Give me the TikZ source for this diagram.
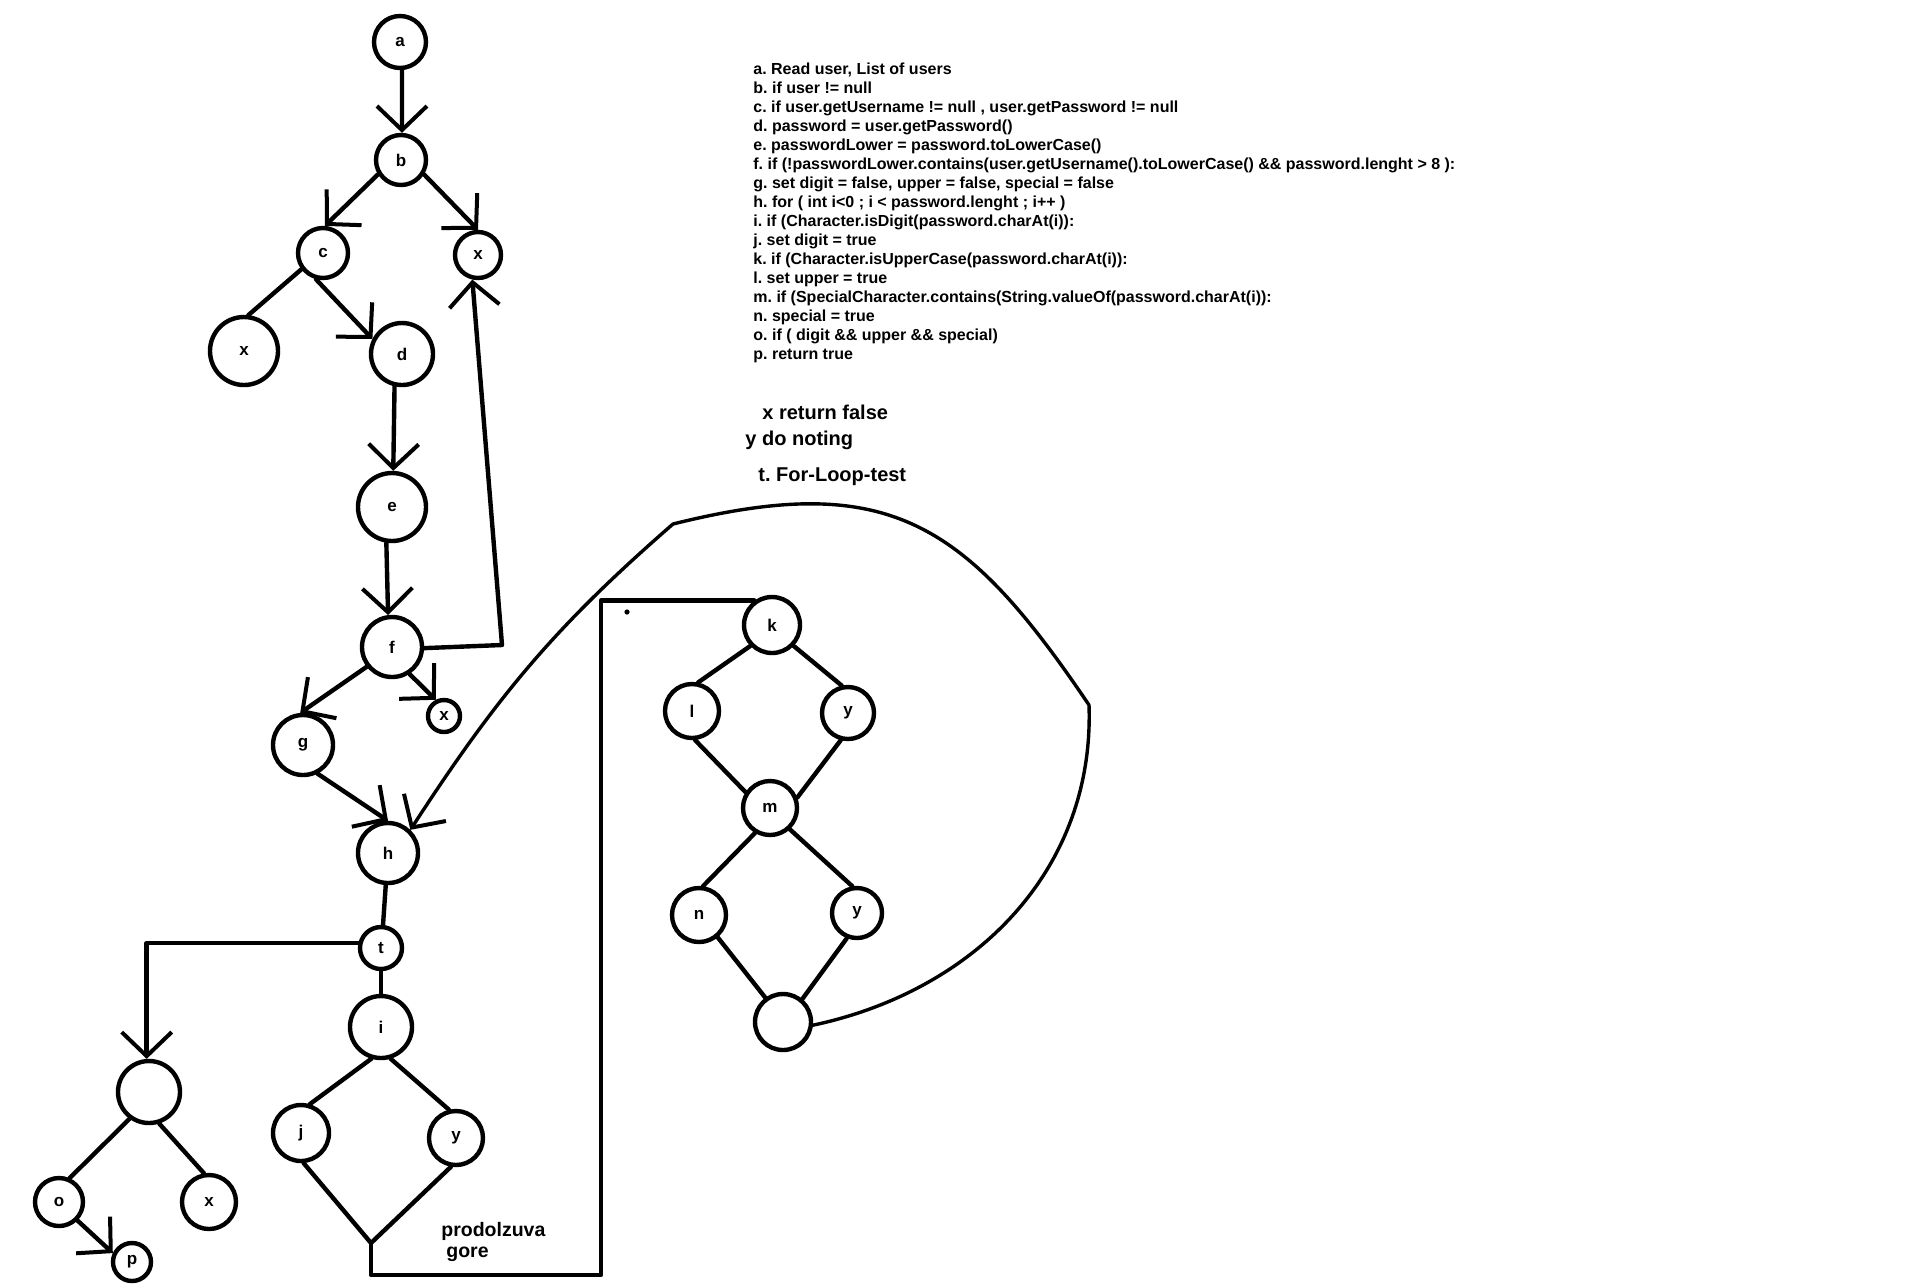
\documentclass[tikz,border=0pt]{standalone}
\usepackage{fontspec}
\setmainfont{Liberation Sans}
\usetikzlibrary{arrows.meta}
\frenchspacing

\tikzset{
  vtx/.style={circle, draw, line width=2.2pt, inner sep=0pt, minimum size=#1pt,
    font=\fontsize{8.5pt}{10pt}\selectfont\bfseries},
  edge/.style={line width=2.2pt, line cap=round, line join=round},
  thinedge/.style={line width=1.7pt, line cap=round, line join=round},
  arr/.style={-{Straight Barb[length=12pt,width=25pt,line width=2pt]}},
  note/.style={inner sep=0pt, anchor=base west,
    font=\fontsize{10pt}{12pt}\selectfont\bfseries},
}

\begin{document}
\begin{tikzpicture}[x=0.5pt, y=-0.5pt]
\useasboundingbox[fill=white] (0,0) rectangle (1914,1286);

% ---- main chain ----
\node[vtx=26] (a)  at (400,42)  {a};
\node[vtx=25] (b)  at (401,160) {b};
\node[vtx=25] (c)  at (323,253) {c};
\node[vtx=23] (xb) at (478,255) {x};
\node[vtx=34] (xc) at (244,351) {x};
\node[vtx=31] (d)  at (402,354) {d};
\node[vtx=34] (e)  at (392,507) {e};
\node[vtx=30] (f)  at (392,647) {f};
\node[vtx=16] (xf) at (444,716) {x};
\node[vtx=30] (g)  at (303,745) {g};
\node[vtx=30] (h)  at (388,853) {h};
\node[vtx=21] (t)  at (381,948) {t};
\node[vtx=31] (i)  at (381,1027) {i};
\node[vtx=28] (j)  at (301,1133) {j};
\node[vtx=27] (yi) at (456,1138) {y};

% ---- exit branch ----
\node[vtx=31] (oq) at (149,1092) {};
\node[vtx=24] (o)  at (59,1202)  {o};
\node[vtx=27] (xo) at (209,1202) {x};
\node[vtx=19] (p)  at (132,1262) {p};

% ---- loop body continued ----
\node[vtx=28] (k)  at (772,625)  {k};
\node[vtx=27] (l)  at (692,711)  {l};
\node[vtx=26] (yk) at (848,713)  {y};
\node[vtx=27] (m)  at (770,808)  {m};
\node[vtx=27] (n)  at (699,915)  {n};
\node[vtx=25] (ym) at (857,913)  {y};
\node[vtx=28] (z)  at (783,1022) {};

% helper points of the routed lines
\coordinate (J)  at (371,1243);
\coordinate (BR) at (601,1275);
\coordinate (P1) at (1089,705);
\coordinate (P2) at (673,524);
\coordinate (FR) at (502,645);

% ---- connectors ----
\draw[edge,arr] (a.274) -- (b.88);
\draw[edge,arr] (b.212) -- (c.86);
\draw[edge,arr] (b.328) -- (xb.90);
\draw[edge]     (c.217) -- (xc.83);
\draw[edge,arr] (c.255) -- (d.153);
\draw[edge,arr] (d.257) -- (e.88);
\draw[edge,arr] (e.261) -- (f.97);
\draw[edge,arr] (f.358) -- (FR) -- (xb.257);
\draw[edge,arr] (f.218) -- (g.95);
\draw[edge,arr] (f.303) -- (xf.117);
\draw[edge,arr] (g.297) -- (h.90);
\draw[edge]     (h.266) -- (t.85);
\draw[edge,arr] (t.168) -| (oq.94);
\draw[edge]     (t.270) -- (i.90);
\draw[edge]     (i.253) -- (j.73);
\draw[edge]     (i.287) -- (yi.104);
\draw[edge]     (j.275) -- (J);
\draw[edge]     (yi.260) -- (J);
\draw[edge]     (J) -- (J |- BR) -- (BR) -- (BR |- k.126) -- (k.126);
\fill (627,612) circle[radius=2.6];

\draw[edge]     (oq.234) -- (o.66);
\draw[edge]     (oq.288) -- (xo.100);
\draw[edge,arr] (o.315) -- (p.155);

\draw[edge] (k.224) -- (l.78);
\draw[edge] (k.316) -- (yk.103);
\draw[edge] (l.276) -- (m.147);
\draw[edge] (yk.255) -- (m.21);
\draw[edge] (m.239) -- (n.82);
\draw[edge] (m.313) -- (ym.100);
\draw[edge] (n.310) -- (z.126);
\draw[edge] (ym.248) -- (z.50);

% loop back to the for header
\draw[thinedge,arr] (z.354) to[out=12,in=-88] (P1)
  to[out=124,in=14,looseness=1.25] (P2)
  to[out=221,in=57] (h.46);

% ---- legend ----
\node[inner sep=0pt, anchor=north west, align=left,
  font=\fontsize{8pt}{9.5pt}\selectfont\bfseries] (legend) at (753,62) {%
a. Read user, List of users\\
b. if user != null\\
c. if user.getUsername != null , user.getPassword != null\\
d. password = user.getPassword()\\
e. passwordLower = password.toLowerCase()\\
f. if (!passwordLower.contains(user.getUsername().toLowerCase() \&\& password.lenght > 8 ):\\
g. set digit = false, upper = false, special = false\\
h. for ( int i<0 ; i < password.lenght ; i++ )\\
i. if (Character.isDigit(password.charAt(i)):\\
j. set digit = true\\
k. if (Character.isUpperCase(password.charAt(i)):\\
l. set upper = true\\
m. if (SpecialCharacter.contains(String.valueOf(password.charAt(i)):\\
n. special = true\\
o. if ( digit \&\& upper \&\& special)\\
p. return true};

\node[note] (xnote) at (762,419) {x return false};
\node[note] (ynote) at (745,445) {y do noting};
\node[note] (tnote) at (758,481) {t. For-Loop-test};
\node[note, font=\fontsize{9.75pt}{11pt}\selectfont\bfseries] (up1) at (441,1236) {prodolzuva};
\node[note, font=\fontsize{9.75pt}{11pt}\selectfont\bfseries] (up2) at (446,1257) {gore};
\end{tikzpicture}
\end{document}
